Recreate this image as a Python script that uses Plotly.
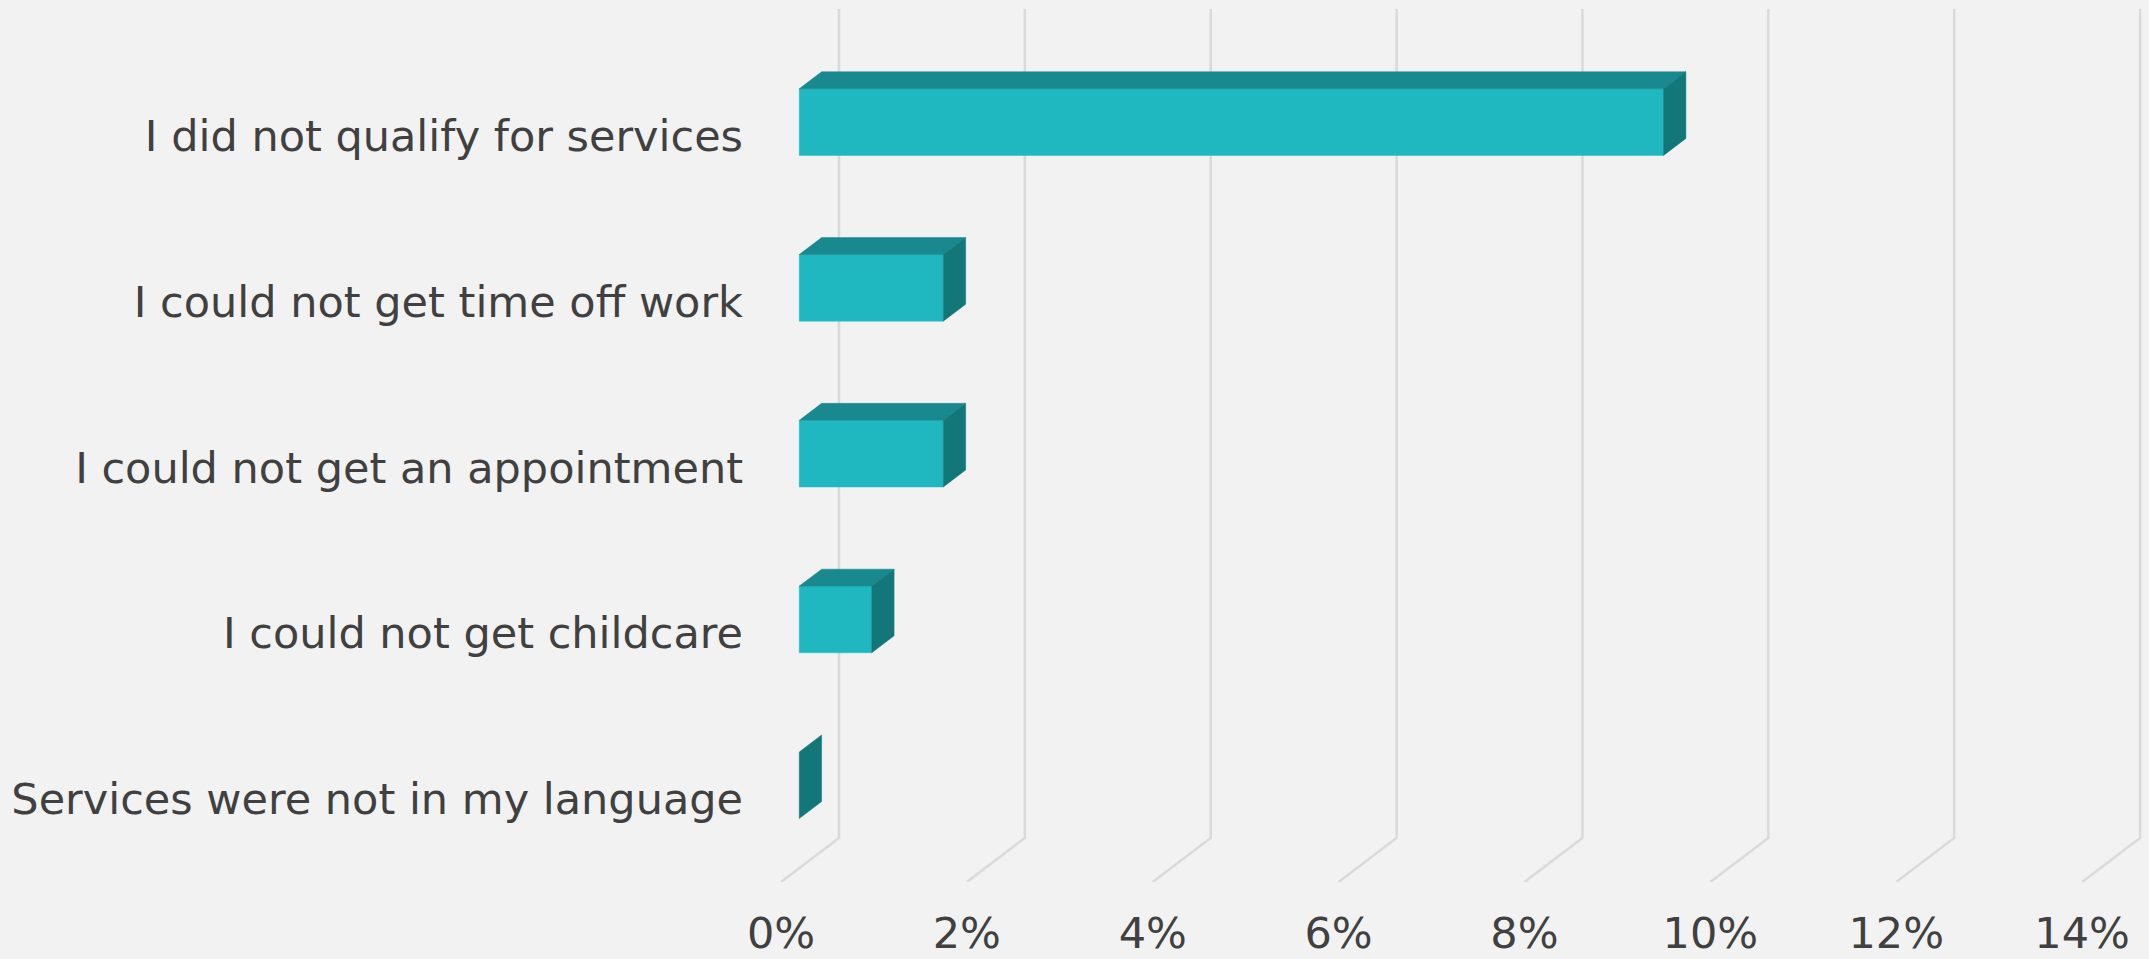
import plotly.graph_objects as go

# Survey responses: reasons for not using services (share of respondents, %)
categories = [
    "I did not qualify for services",
    "I could not get time off work",
    "I could not get an appointment",
    "I could not get childcare",
    "Services were not in my language",
]
values = [9.30, 1.55, 1.55, 0.78, 0.0]
tick_values = [0, 2, 4, 6, 8, 10, 12, 14]
tick_labels = ["0%", "2%", "4%", "6%", "8%", "10%", "12%", "14%"]

# Oblique 3D projection: depth of the chart box expressed in axis units
DX = 0.624    # horizontal shift of the back wall (in % units)
DY = 0.2655   # vertical shift of the back wall (in category units)
F_FRONT, F_BACK = 0.315, 0.70   # bar depth span as a fraction of the box depth
HALF_H = 0.201                   # half bar height in category units

BG = "#F2F2F2"
GRID = "#DADADA"
TEXT = "#404040"
C_FRONT = "#1FB8C1"
C_TOP = "#19898F"
C_SIDE = "#13777A"
FONT = "DejaVu Sans, Verdana, sans-serif"


def proj(v, c, f, h):
    """Project (value, category, depth fraction, height offset) onto the 2D axes."""
    return v + f * DX, c + h - f * DY


fig = go.Figure()

# Back-wall gridlines and floor diagonals
y_floor_front = len(categories) - 0.5
y_top_front = -0.5
gx, gy = [], []
for t in tick_values:
    x0, y0 = proj(t, y_floor_front, 0, 0)
    x1, y1 = proj(t, y_floor_front, 1, 0)
    x2, y2 = proj(t, y_top_front, 1, 0)
    gx += [x0, x1, x2, None]
    gy += [y0, y1, y2, None]
fig.add_trace(go.Scatter(x=gx, y=gy, mode="lines",
                         line=dict(color=GRID, width=2.5),
                         hoverinfo="skip", showlegend=False))

# Bar faces
front_x, front_y, top_x, top_y, side_x, side_y = [], [], [], [], [], []
for i, v in enumerate(values):
    # front face
    pts = [proj(0, i, F_FRONT, -HALF_H), proj(v, i, F_FRONT, -HALF_H),
           proj(v, i, F_FRONT, HALF_H), proj(0, i, F_FRONT, HALF_H),
           proj(0, i, F_FRONT, -HALF_H)]
    if v > 0:
        front_x += [p[0] for p in pts] + [None]
        front_y += [p[1] for p in pts] + [None]
    # top face
    pts = [proj(0, i, F_FRONT, -HALF_H), proj(v, i, F_FRONT, -HALF_H),
           proj(v, i, F_BACK, -HALF_H), proj(0, i, F_BACK, -HALF_H),
           proj(0, i, F_FRONT, -HALF_H)]
    if v > 0:
        top_x += [p[0] for p in pts] + [None]
        top_y += [p[1] for p in pts] + [None]
    # right side face
    pts = [proj(v, i, F_FRONT, -HALF_H), proj(v, i, F_BACK, -HALF_H),
           proj(v, i, F_BACK, HALF_H), proj(v, i, F_FRONT, HALF_H),
           proj(v, i, F_FRONT, -HALF_H)]
    side_x += [p[0] for p in pts] + [None]
    side_y += [p[1] for p in pts] + [None]

for xs, ys, col in [(front_x, front_y, C_FRONT), (top_x, top_y, C_TOP),
                    (side_x, side_y, C_SIDE)]:
    fig.add_trace(go.Scatter(x=xs, y=ys, mode="lines", fill="toself",
                             fillcolor=col, line=dict(color=col, width=0.5),
                             hoverinfo="skip", showlegend=False))

fig.update_layout(
    width=2149, height=959,
    margin=dict(l=760, r=0, t=9, b=77),
    paper_bgcolor=BG, plot_bgcolor=BG,
    font=dict(family=FONT, size=43, color=TEXT),
    showlegend=False,
)
fig.update_xaxes(range=[-0.226, 14.72], tickvals=tick_values, ticktext=tick_labels,
                 showgrid=False, zeroline=False, showline=False, ticks="",
                 automargin=False, ticklabelstandoff=22,
                 tickfont=dict(size=43, color=TEXT))
fig.update_yaxes(range=[y_floor_front, y_top_front - DY],
                 tickvals=list(range(len(categories))), ticktext=categories,
                 showgrid=False, zeroline=False, showline=False, ticks="",
                 automargin=False, ticklabelstandoff=16,
                 tickfont=dict(size=43, color=TEXT))

fig.write_html("out.html")
